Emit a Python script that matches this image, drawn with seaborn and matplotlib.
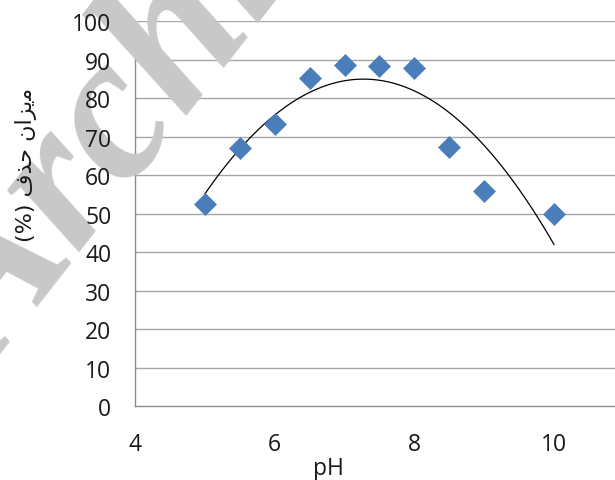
import numpy as np
import pandas as pd
import matplotlib
matplotlib.use("Agg")
import matplotlib.pyplot as plt
import seaborn as sns

# -----------------------------
# Data
# -----------------------------

ph_values = [5, 5.5, 6, 6.5, 7, 7.5, 8, 8.5, 9, 10]
removal_pct = [52.5, 67.0, 73.2, 85.2, 88.6, 88.3, 87.8, 67.3, 55.8, 49.9]

y_ticks = [0, 10, 20, 30, 40, 50, 60, 70, 80, 90, 100]
x_ticks = [4, 6, 8, 10]

# Persian label written in visual order with presentation forms,
# matplotlib does no Arabic shaping itself
y_label = "(%) \ufed1\ufeac\ufea3 \ufee5\ufe8d\ufeb0\ufbfe\ufee3"
x_label = "pH"
watermark = "Archive"

df = pd.DataFrame({"pH": ph_values, "Removal": removal_pct})

# -----------------------------
# Style
# -----------------------------

sns.set_style("white")
plt.rcParams["font.family"] = ["Open Sans", "DejaVu Sans"]

marker_blue = "#4a7ebb"
grid_grey = "#a6a6a6"

fig = plt.figure(figsize=(6.15, 4.81), dpi=100)

# axes run past the right edge, as in the cropped original
ax = fig.add_axes([0.2195, 0.1538, 0.9086, 0.8004])
ax.set_axisbelow(False)

ax.set_xlim(4, 12)
ax.set_ylim(0, 100)

ax.set_yticks(y_ticks)
ax.set_xticks(x_ticks)

# gridlines drawn as lines so the watermark can sit over them
for yt in y_ticks[1:]:
    ax.axhline(yt, color=grid_grey, linewidth=1.0, zorder=1)

for side in ["top", "right"]:
    ax.spines[side].set_visible(False)

for side in ["left", "bottom"]:
    ax.spines[side].set_color("#8c8c8c")
    ax.spines[side].set_linewidth(1.0)
    ax.spines[side].set_zorder(1)

ax.tick_params(
    axis="both",
    direction="out",
    length=7,
    width=1.0,
    color="#8c8c8c",
    labelsize=16.5,
    labelcolor="#1a1a1a"
)
ax.tick_params(axis="x", pad=12)
ax.tick_params(axis="y", pad=10)

# -----------------------------
# Watermark
# -----------------------------

ax.text(
    -0.19, 0.26,
    watermark,
    transform=fig.transFigure,
    fontsize=150,
    family="Liberation Serif",
    fontweight="bold",
    fontstyle="italic",
    color="#c8c8c8",
    rotation=52,
    ha="left",
    va="baseline",
    clip_on=False,
    zorder=1.5
)

# -----------------------------
# Trendline (2nd order) and points
# -----------------------------

sns.regplot(
    data=df,
    x="pH",
    y="Removal",
    order=2,
    ci=None,
    scatter=False,
    line_kws={"color": "black", "linewidth": 0.9, "zorder": 3},
    ax=ax
)

sns.scatterplot(
    data=df,
    x="pH",
    y="Removal",
    marker="D",
    s=125,
    color=marker_blue,
    edgecolor=marker_blue,
    linewidth=0.5,
    zorder=4,
    ax=ax
)

ax.set_xlim(4, 12)
ax.set_ylim(0, 100)

ax.set_xlabel(x_label, fontsize=16.5, color="#1a1a1a")
ax.xaxis.set_label_coords(0.347, -0.13)

ax.set_ylabel(
    y_label,
    fontsize=16,
    color="#1a1a1a",
    family=["DejaVu Sans"]
)
ax.yaxis.set_label_coords(-0.176, 0.63)

plt.savefig("out.png", dpi=100)
plt.close()
